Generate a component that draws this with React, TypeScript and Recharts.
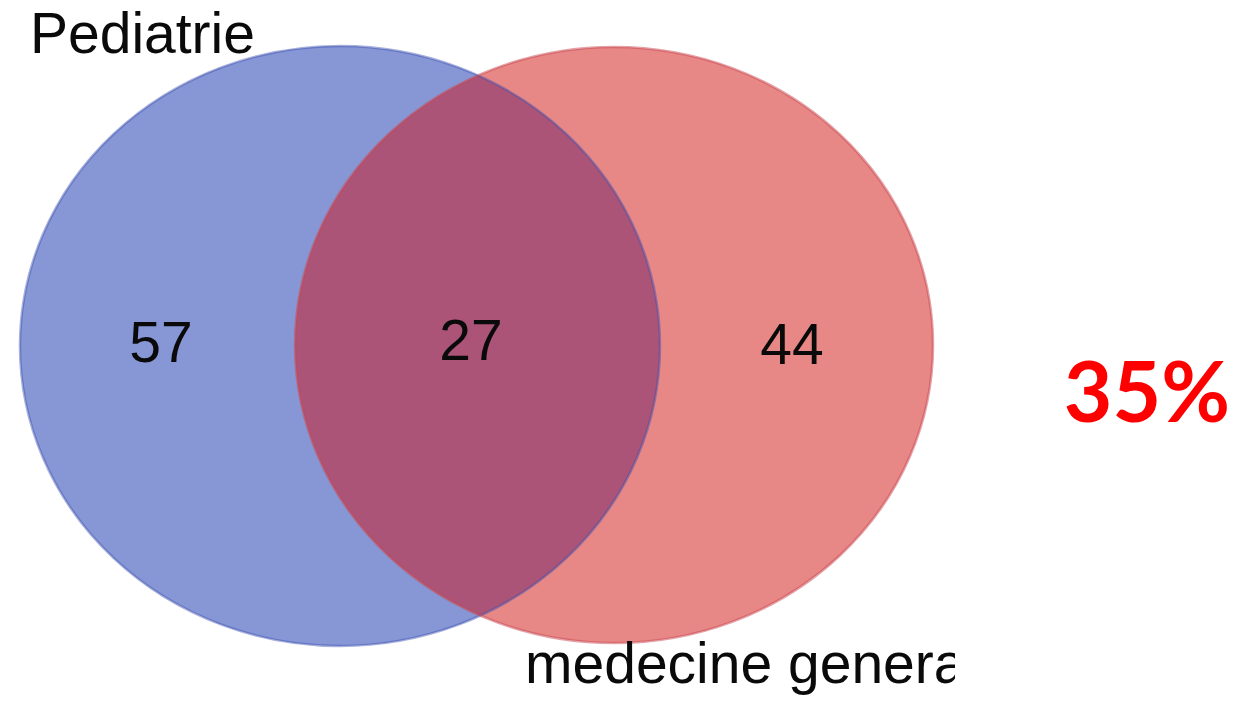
import React from 'react';
import { ScatterChart, Scatter, XAxis, YAxis } from 'recharts';

// two sets, three regions
const setNames = ['Pediatrie', 'medecine generale'];
const regionCounts = [57, 27, 44]; // Pediatrie only, both, medecine generale only
const overlapShare = '35%';

// layout, in chart units (domain == pixels here)
const W = 1237;
const H = 707;
const setCx = [340, 614];
const setCy = [346, 345];
const setRx = [320, 319];
const setRy = [300, 298];
const setFill = ['#8797d6', '#e88886'];
const setStroke = ['rgba(60,80,175,0.45)', 'rgba(200,70,80,0.5)'];
const overlapFill = '#ab5477';
const countX = [161, 471, 792];
const countY = [362, 360, 364];
const nameX = [30, 525];
const nameY = [53, 683];
const nameClipRight = 955;
const shareX = 1147;
const shareY = 422;

const kx = W / W;
const ky = H / H;

const sets = setNames.map((name, i) => ({
    x: setCx[i],
    y: setCy[i],
    rx: setRx[i],
    ry: setRy[i],
    fill: setFill[i],
    stroke: setStroke[i],
    name,
}));

const lens = [{ x: setCx[0], y: setCy[0] }];
const counts = regionCounts.map((c, i) => ({ x: countX[i], y: countY[i], label: String(c) }));
const names = setNames.map((n, i) => ({ x: nameX[i], y: nameY[i], label: n }));
const share = [{ x: shareX, y: shareY, label: overlapShare }];

const FillShape = (p: any) => (
    <ellipse cx={p.cx} cy={p.cy} rx={p.payload.rx * kx} ry={p.payload.ry * ky} fill={p.payload.fill} />
);

const OutlineShape = (p: any) => (
    <ellipse cx={p.cx} cy={p.cy} rx={p.payload.rx * kx} ry={p.payload.ry * ky} fill="none" stroke={p.payload.stroke} strokeWidth={2.5} />
);

const LensShape = (p: any) => {
    const ox = p.cx + (setCx[1] - setCx[0]) * kx;
    const oy = p.cy + (setCy[1] - setCy[0]) * ky;
    return (
        <g>
            <defs>
                <clipPath id="lens-clip">
                    <ellipse cx={ox} cy={oy} rx={setRx[1] * kx} ry={setRy[1] * ky} />
                </clipPath>
            </defs>
            <ellipse cx={p.cx} cy={p.cy} rx={setRx[0] * kx} ry={setRy[0] * ky} fill={overlapFill} clipPath="url(#lens-clip)" />
        </g>
    );
};

const CountShape = (p: any) => (
    <text x={p.cx} y={p.cy} textAnchor="middle" fontSize={57} fontFamily="Liberation Sans, Arial, sans-serif" fill="#0a0a0a">
        {p.payload.label}
    </text>
);

const NameShape = (p: any) => (
    <g>
        <defs>
            <clipPath id={`name-clip-${p.index}`}>
                <rect x={0} y={0} width={nameClipRight * kx} height={H} />
            </clipPath>
        </defs>
        <text x={p.cx} y={p.cy} textAnchor="start" fontSize={57} fontFamily="Liberation Sans, Arial, sans-serif" fill="#0a0a0a" clipPath={`url(#name-clip-${p.index})`}>
            {p.payload.label}
        </text>
    </g>
);

const ShareShape = (p: any) => (
    <text x={p.cx} y={p.cy} textAnchor="middle" fontSize={84} fontWeight="bold" fontFamily="Lato, sans-serif" fill="#ff0000">
        {p.payload.label}
    </text>
);

export default function App() {
    return (
        <div style={{ position: 'absolute', left: 0, top: 0, width: W, height: H, background: '#fff' }}>
            <ScatterChart width={W} height={H} margin={{ top: 0, right: 0, bottom: 0, left: 0 }}>
                <XAxis type="number" dataKey="x" domain={[0, W]} hide />
                <YAxis type="number" dataKey="y" domain={[0, H]} reversed hide />
                <Scatter data={sets} shape={FillShape} isAnimationActive={false} />
                <Scatter data={lens} shape={LensShape} isAnimationActive={false} />
                <Scatter data={sets} shape={OutlineShape} isAnimationActive={false} />
                <Scatter data={counts} shape={CountShape} isAnimationActive={false} />
                <Scatter data={names} shape={NameShape} isAnimationActive={false} />
                <Scatter data={share} shape={ShareShape} isAnimationActive={false} />
            </ScatterChart>
        </div>
    );
}
